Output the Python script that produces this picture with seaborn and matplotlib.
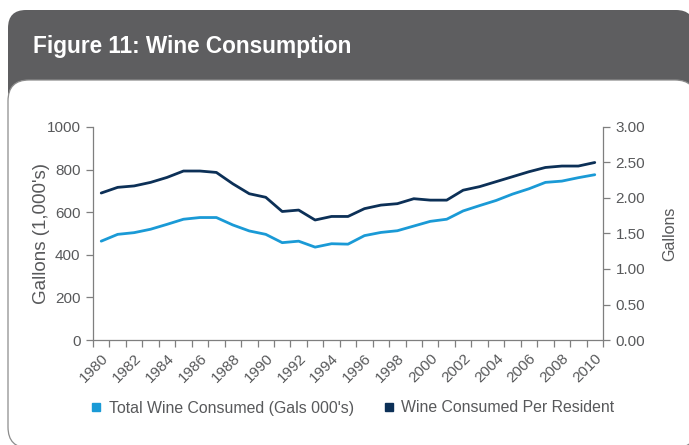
import numpy as np
import pandas as pd
import matplotlib
matplotlib.use("Agg")
import matplotlib.pyplot as plt
import seaborn as sns
from matplotlib.patches import FancyBboxPatch
from matplotlib.lines import Line2D
from matplotlib.transforms import IdentityTransform

# Wine consumption, 1980-2010
years = list(range(1980, 2011))
total_consumed = [464, 496, 504, 520, 543, 567, 575, 575, 540, 512, 496, 457,
                  464, 436, 452, 450, 490, 505, 513, 535, 557, 567, 606, 631,
                  655, 685, 710, 740, 746, 762, 776]
per_resident = [2.07, 2.15, 2.17, 2.22, 2.29, 2.38, 2.38, 2.36, 2.20, 2.06, 2.01,
                1.81, 1.83, 1.69, 1.74, 1.74, 1.85, 1.90, 1.92, 1.99, 1.97, 1.97,
                2.11, 2.16, 2.23, 2.30, 2.37, 2.43, 2.45, 2.45, 2.50]
left_ticks = [0, 200, 400, 600, 800, 1000]
right_ticks = [0.0, 0.5, 1.0, 1.5, 2.0, 2.5, 3.0]
series_names = ["Total Wine Consumed (Gals 000's)", "Wine Consumed Per Resident"]

LIGHT = "#1a9ad6"
DARK = "#0c3057"
TEXT = "#58595b"
AXIS = "#7f7f7f"
HEADER = "#5e5e60"

sns.set_style("white")
plt.rcParams["font.family"] = ["Liberation Sans", "DejaVu Sans"]

df = pd.DataFrame({"pos": np.arange(len(years)),
                   "total": total_consumed,
                   "per_resident": per_resident})

fig = plt.figure(figsize=(6.89, 4.45), dpi=100)
fig.patch.set_facecolor("white")

# Header band and rounded content panel (pixel coordinates, origin bottom-left)
header = FancyBboxPatch((8, 335), 686, 100,
                        boxstyle="round,pad=0,rounding_size=18",
                        facecolor=HEADER, edgecolor="none",
                        transform=IdentityTransform(), zorder=0)
panel = FancyBboxPatch((8, -3), 688, 368,
                       boxstyle="round,pad=0,rounding_size=21",
                       facecolor="white", edgecolor="#8c8c8c", linewidth=0.9,
                       transform=IdentityTransform(), zorder=1)
fig.patches.extend([header, panel])

fig.text(33 / 689, 1 - 47 / 445, "Figure 11: Wine Consumption",
         color="white", fontsize=16.3, fontweight="bold", va="center", ha="left")

ax = fig.add_axes([93 / 689, 1 - 340 / 445, 510 / 689, 213 / 445])
ax.set_facecolor("none")
ax.set_zorder(2)
ax2 = ax.twinx()

sns.lineplot(data=df, x="pos", y="total", ax=ax, color=LIGHT, linewidth=2.0)
sns.lineplot(data=df, x="pos", y="per_resident", ax=ax2, color=DARK, linewidth=2.0)

n = len(years)
ax.set_xlim(-0.5, n - 0.5)
ax.set_ylim(0, 1000)
ax2.set_ylim(0, 3.0)

# Year labels every second category, tick marks on category boundaries
ax.set_xticks(np.arange(0, n, 2))
ax.set_xticklabels([str(y) for y in years[::2]], rotation=45, ha="right",
                   rotation_mode="anchor")
ax.set_xticks(np.arange(-0.5, n, 1.0), minor=True)
ax.tick_params(axis="x", which="major", length=0, pad=8, labelsize=11,
               labelcolor=TEXT)
ax.tick_params(axis="x", which="minor", length=5, width=0.9, color=AXIS,
               direction="out", bottom=True)

ax.set_yticks(left_ticks)
ax.set_yticklabels([str(v) for v in left_ticks])
ax.tick_params(axis="y", length=5, width=0.9, color=AXIS, direction="out",
               left=True, pad=4, labelsize=11, labelcolor=TEXT)
ax2.set_yticks(right_ticks)
ax2.set_yticklabels([f"{v:.2f}" for v in right_ticks])
ax2.tick_params(axis="y", length=5, width=0.9, color=AXIS, direction="out",
                right=True, pad=4, labelsize=11, labelcolor=TEXT)

ax.set_xlabel("")
ax.set_ylabel("Gallons (1,000's)", fontsize=13.5, color=TEXT, labelpad=-2.5)
ax2.set_xlabel("")
ax2.set_ylabel("Gallons", fontsize=11.5, color=TEXT, labelpad=12)

for a in (ax, ax2):
    a.spines["top"].set_visible(False)
    for side in ("left", "right", "bottom"):
        a.spines[side].set_color(AXIS)
        a.spines[side].set_linewidth(0.9)
ax.spines["right"].set_visible(False)
ax2.spines["left"].set_visible(False)
ax2.spines["bottom"].set_visible(False)

handles = [Line2D([], [], marker="s", linestyle="None", color=LIGHT, markersize=6),
           Line2D([], [], marker="s", linestyle="None", color=DARK, markersize=6)]
fig.legend(handles, series_names, loc="center",
           bbox_to_anchor=(352 / 689, 1 - 408 / 445), ncol=2, frameon=False,
           fontsize=11.4, labelcolor=TEXT, handlelength=0.8, handletextpad=0.4,
           columnspacing=1.8)

fig.savefig("out.png", dpi=100)
